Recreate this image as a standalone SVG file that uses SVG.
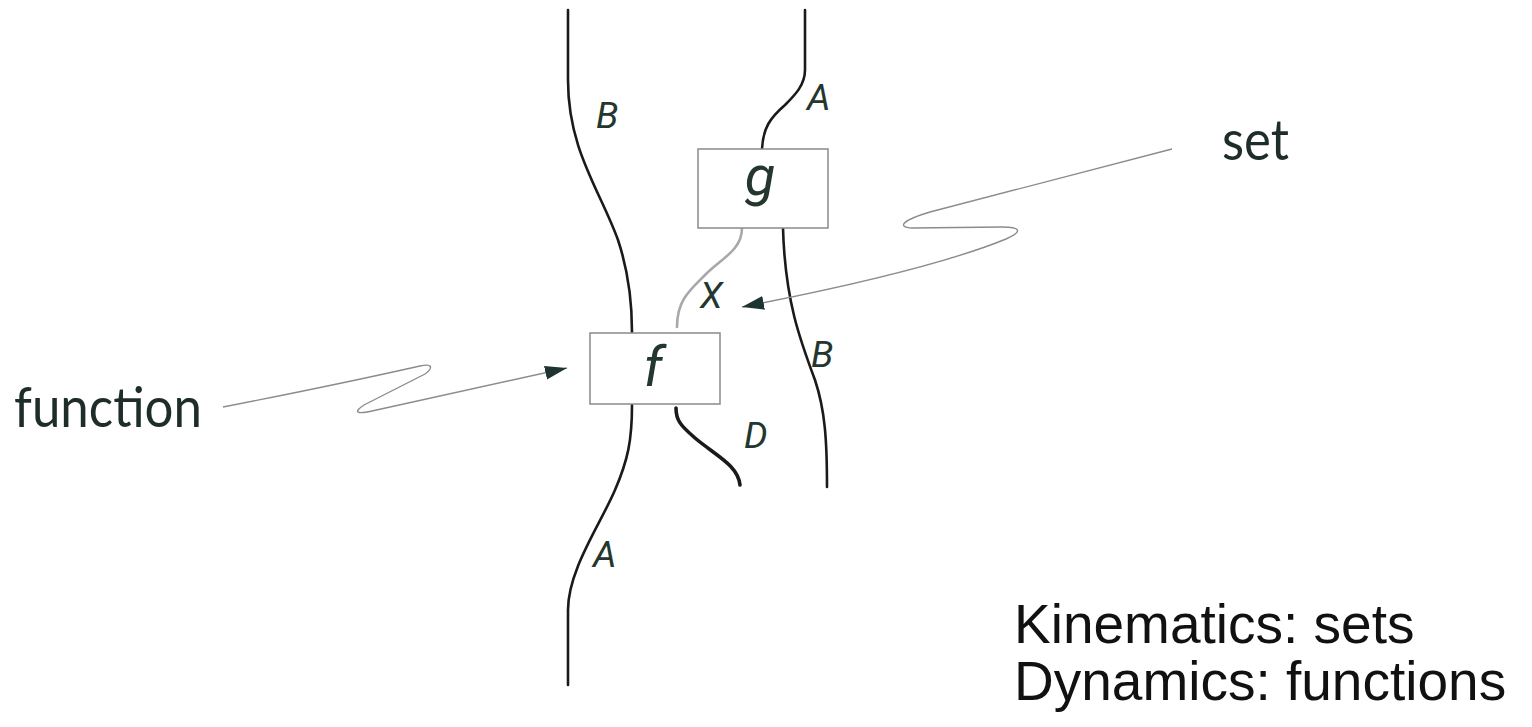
<svg xmlns="http://www.w3.org/2000/svg" width="1532" height="727" viewBox="0 0 1532 727">
  <style>
    .wire { fill: none; stroke: #1a1a1a; stroke-width: 2.6; stroke-linecap: round; }
    .wire-grey { fill: none; stroke: #a8a8a8; stroke-width: 2.6; stroke-linecap: round; }
    .wire-thick { fill: none; stroke: #1a1a1a; stroke-width: 3.6; stroke-linecap: round; }
    .box { fill: #ffffff; stroke: #8a8a8a; stroke-width: 1.5; }
    .pointer { fill: none; stroke: #8c8c8c; stroke-width: 1.4; }
    .lbl { font-family: Roboto, "Open Sans", sans-serif; font-style: italic; font-weight: 400; fill: #23372f; }
    .note { font-family: Lato, "Open Sans", sans-serif; fill: #1f2d2a; }
    .caption { font-family: "Liberation Sans", Arial, sans-serif; fill: #111111; font-size: 55px; }
  </style>
  <defs>
    <marker id="head" markerUnits="userSpaceOnUse" markerWidth="24" markerHeight="16" refX="22" refY="7" orient="auto">
      <path d="M0,0 L22,7 L0,14 z" fill="#1f3330"/>
    </marker>
  </defs>
  <rect width="1532" height="727" fill="#ffffff"/>

  <!-- wires -->
  <g id="wires">
    <path class="wire" d="M568,10 L568,80 C568,150 600,190 618,240 C628,270 632,300 632,332"/>
    <path class="wire" d="M632,405 C632,440 628,460 615,490 C600,525 568,570 568,610 L568,685"/>
    <path class="wire" d="M805,10 L805,70 C805,85 795,95 785,105 C770,118 763,128 762,149"/>
    <path class="wire-grey" d="M742,228 C742,250 722,258 705,275 C690,290 677,300 677,327"/>
    <path class="wire" d="M783,228 C785,300 800,340 815,380 C825,410 827,440 827,487"/>
    <path class="wire-thick" d="M676,408 C676,420 680,425 695,438 C715,455 738,465 740,485"/>
  </g>

  <!-- wire labels -->
  <g id="wire-labels">
    <text class="lbl" x="596" y="128" font-size="37">B</text>
    <text class="lbl" x="807" y="110" font-size="37">A</text>
    <text class="lbl" x="700" y="308" font-size="37">X</text>
    <text class="lbl" x="811" y="367" font-size="37">B</text>
    <text class="lbl" x="744" y="448" font-size="37">D</text>
    <text class="lbl" x="593" y="567" font-size="37">A</text>
  </g>

  <!-- boxes -->
  <g id="node-g">
    <rect class="box" x="698" y="149" width="130" height="79"/>
    <text class="lbl" x="760" y="195" font-size="56" text-anchor="middle">g</text>
  </g>
  <g id="node-f">
    <rect class="box" x="590" y="333" width="130" height="71"/>
    <text class="lbl" x="653" y="386" font-size="56" text-anchor="middle">f</text>
  </g>

  <!-- annotation pointers -->
  <g id="pointers">
    <path class="pointer" marker-end="url(#head)" d="M223,407 C300,392 380,375 420,366 C433,363 433,368 425,374 L364,405 C352,413 358,414 372,411 L567,368"/>
    <path class="pointer" marker-end="url(#head)" d="M1172,149 L930,212 C903,220 896,227 912,228 L1002,227 C1022,227 1022,232 1006,239 C950,262 850,286 742,307"/>
  </g>

  <g id="note-function">
    <text class="note" x="14" y="427" font-size="56" textLength="188" lengthAdjust="spacingAndGlyphs">function</text>
  </g>
  <g id="note-set">
    <text class="note" x="1222" y="160" font-size="56" textLength="67" lengthAdjust="spacingAndGlyphs">set</text>
  </g>

  <g id="caption">
    <text class="caption" x="1014" y="643">Kinematics: sets</text>
    <text class="caption" x="1014" y="700">Dynamics: functions</text>
  </g>
</svg>
